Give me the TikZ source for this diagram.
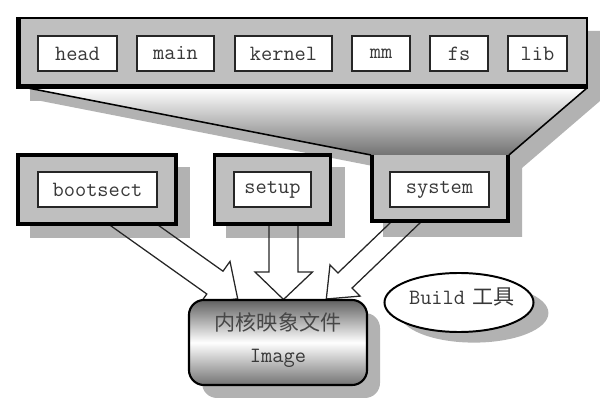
\documentclass[tikz,border=0pt]{standalone}
\usepackage{fontspec}
\newfontfamily\cjk{Noto Sans CJK SC}
\usetikzlibrary{shapes.geometric}
\begin{document}
\begin{tikzpicture}[x=0.025cm,y=-0.025cm,
  lbl/.style={font=\ttfamily\fontsize{15.5}{18}\selectfont, text=black!78},
  cjklbl/.style={font=\cjk\fontsize{15}{18}\selectfont, text=black!72},
  innerbox/.style={draw=black!85, line width=0.9pt, fill=white, inner sep=0pt, minimum height=0.875cm, lbl},
  outerbox/.style={draw=black, line width=2.8pt, fill=black!25, inner sep=0pt},
  shadowfill/.style={fill=black!30},
  edge/.style={draw=black, line width=1.1pt},
  blockarrow/.style={draw=black!85, line width=0.9pt, line join=miter}]
\useasboundingbox (0,0) rectangle (600,400);

% ---- shadows ----
\fill[shadowfill] (30,31) -- (600,31) -- (600,101) -- (522,168) -- (522,237)
   -- (383,237) -- (383,168) -- (41,101) -- (30,101) -- cycle;
\fill[shadowfill] (30,167) rectangle (190,238);
\fill[shadowfill] (226,167) rectangle (345,238);
\fill[shadowfill, rounded corners=0.375cm] (202,313) rectangle (380,398);
\fill[shadowfill] (474,313) ellipse [x radius=1.86cm, y radius=0.74cm];

% ---- block arrows (outlines, tips hidden by the image box) ----
\draw[blockarrow] (102.5,219.9) -- (206.8,294) -- (199.8,303.8) -- (237.7,298.8)
   -- (230,261.4) -- (223,271.2) -- (118.7,197.1);
\draw[blockarrow] (269,215) -- (269,272) -- (255,272) -- (283.5,299.5)
   -- (312.5,272) -- (298,272) -- (298,215);
\draw[blockarrow] (412.3,201.7) -- (337.9,273) -- (330,264.9) -- (326.3,299)
   -- (360,296.1) -- (352.1,288) -- (426.5,216.7);

% ---- top group: funnel, top box, system box ----
\shade[top color=white, bottom color=black!55] (28,88) -- (587,88) -- (509,155) -- (371,155) -- cycle;
\draw[edge] (28,88) -- (371,155);
\draw[edge] (587,88) -- (509,155);

\node[fill=black!25, inner sep=0pt, minimum width=14.25cm, minimum height=1.75cm] (top) at (302,53) {};
\draw[line width=1.6pt] (top.north west) rectangle (top.south east);
\draw[line width=3.2pt] ([xshift=1.2pt]top.north west) -- ([xshift=1.2pt,yshift=1.2pt]top.south west)
   -- ([yshift=1.2pt]top.south east);

\node[fill=black!25, inner sep=0pt, minimum width=3.475cm, minimum height=1.7cm] (sysbox) at (439.5,189) {};
\draw[line width=2.8pt] ([xshift=1.4pt]sysbox.north west) -- ([xshift=1.4pt,yshift=1.4pt]sysbox.south west)
   -- ([xshift=-1.2pt,yshift=1.4pt]sysbox.south east) -- ([xshift=-1.2pt]sysbox.north east);

\node[innerbox, minimum width=1.975cm] (head) at (77.5,53.5) {head};
\node[innerbox, minimum width=1.925cm] (main) at (175.5,53.5) {main};
\node[innerbox, minimum width=2.425cm] (kernel) at (283.5,53.5) {kernel};
\node[innerbox, minimum width=1.45cm] (mm) at (381,53.5) {mm};
\node[innerbox, minimum width=1.45cm] (fs) at (459,53.5) {fs};
\node[innerbox, minimum width=1.475cm] (lib) at (537.5,53.5) {lib};

% ---- lower boxes ----
\node[outerbox, minimum width=3.93cm, minimum height=1.71cm] (bootbox) at (97,189.5) {};
\node[outerbox, minimum width=2.9cm, minimum height=1.71cm] (setupbox) at (272.5,189.5) {};
\node[innerbox, minimum width=2.975cm] (bootsect) at (97.5,189.5) {bootsect};
\node[innerbox, minimum width=1.925cm] (setup) at (272.5,189.5) {setup};
\node[innerbox, minimum width=2.475cm] (system) at (439.5,189.5) {system};

% ---- image box ----
\node[draw=black, line width=1.5pt, rounded corners=0.375cm,
      top color=black!62, bottom color=black!55, middle color=white,
      minimum width=4.45cm, minimum height=2.125cm, inner sep=0pt] (img) at (278,342.5) {};
\node[cjklbl] (imgcn) at (278,322) {内核映象文件};
\node[lbl] (imgen) at (278,358) {Image};

% ---- build tool ellipse ----
\node[ellipse, draw=black, line width=1.4pt, fill=white, inner sep=0pt,
      minimum width=3.725cm, minimum height=1.475cm] (build) at (459,302.5) {};
\node[lbl, inner sep=0pt] (buildtxt) at (462,297) {Build\hspace{0.35em}{\cjk\fontsize{15}{18}\selectfont 工具}};
\end{tikzpicture}
\end{document}
